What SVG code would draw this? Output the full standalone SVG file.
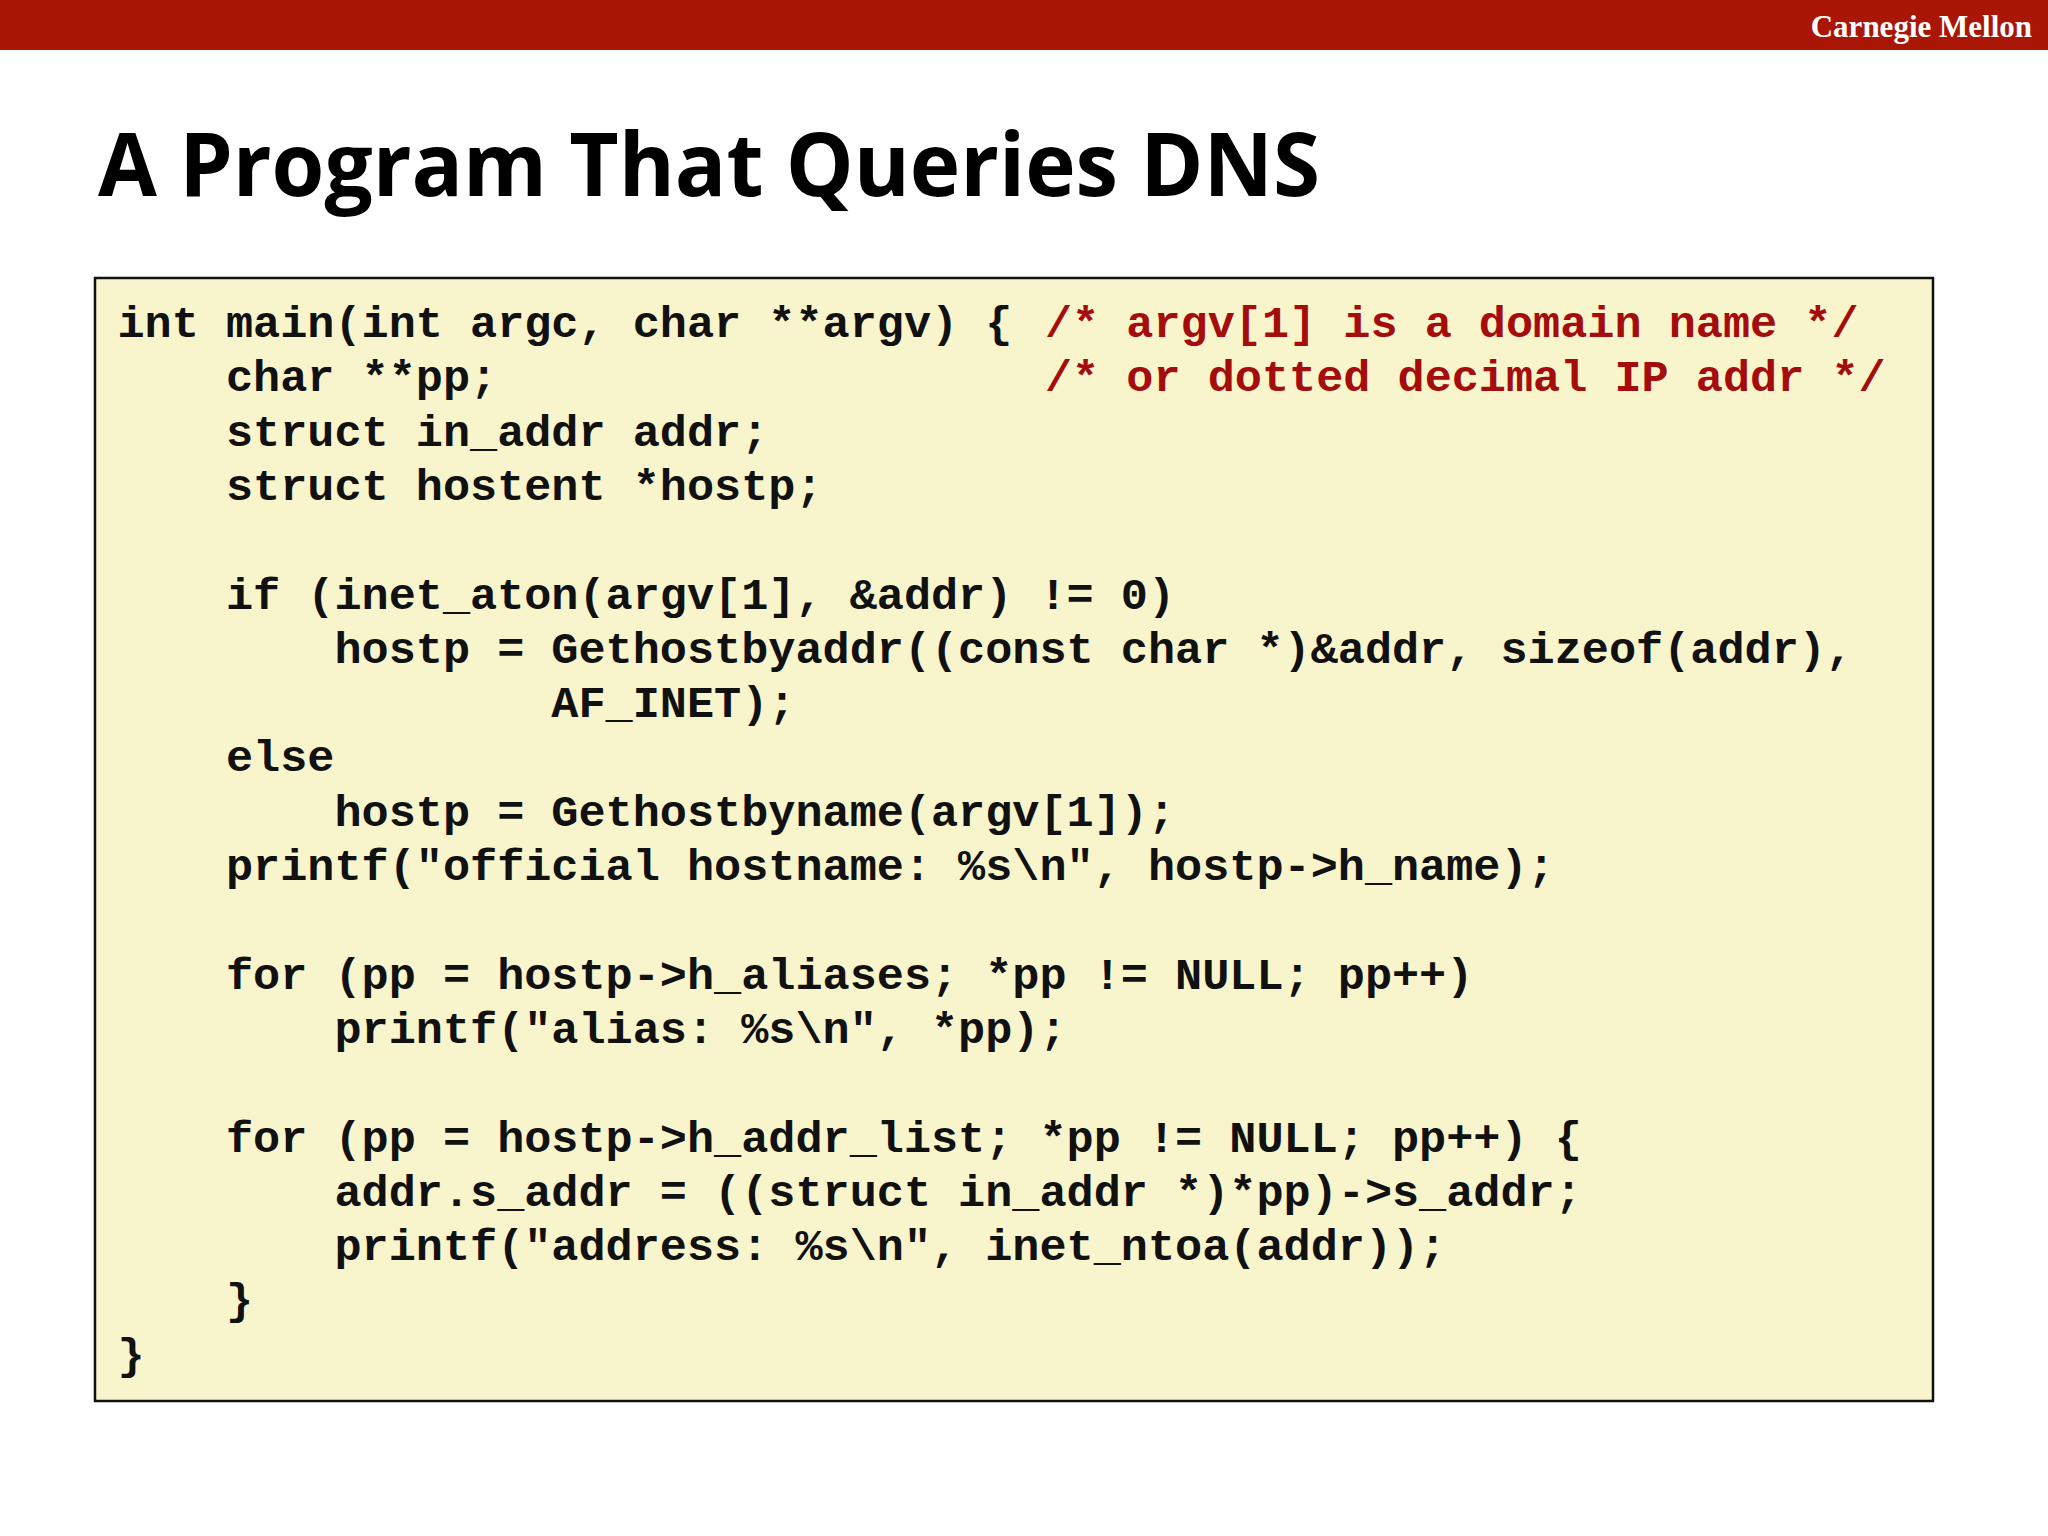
<svg xmlns="http://www.w3.org/2000/svg" width="2048" height="1536" viewBox="0 0 2048 1536" xml:space="preserve">
<style>
.c{font-family:"Liberation Mono","Courier New",monospace;font-weight:bold;font-size:45.2px;fill:#111;white-space:pre}
.r{fill:#a50d0d}
</style>
<rect width="2048" height="1536" fill="#fff"/>
<g id="header"><rect width="2048" height="50" fill="#a91605"/>
<text x="2032" y="37" text-anchor="end" font-family="Liberation Serif,serif" font-weight="bold" font-size="31" fill="#fff">Carnegie Mellon</text></g>
<g id="title"><text x="98" y="196" font-family="Open Sans,Liberation Sans,sans-serif" font-weight="bold" font-size="88" textLength="1222" lengthAdjust="spacingAndGlyphs" fill="#000">A Program That Queries DNS</text></g>
<g id="codebox"><rect x="95" y="278" width="1838" height="1123" fill="#f8f5cd" stroke="#111" stroke-width="2.5"/>
<text class="c" x="117.5" y="337">int main(int argc, char **argv) { <tspan class="r" x="1045">/* argv[1] is a domain name */</tspan></text>
<text class="c" x="117.5" y="391.3">    char **pp;<tspan class="r" x="1045">/* or dotted decimal IP addr */</tspan></text>
<text class="c" x="117.5" y="445.6">    struct in_addr addr;</text>
<text class="c" x="117.5" y="499.9">    struct hostent *hostp;</text>
<text class="c" x="117.5" y="608.5">    if (inet_aton(argv[1], &amp;addr) != 0)</text>
<text class="c" x="117.5" y="662.8">        hostp = Gethostbyaddr((const char *)&amp;addr, sizeof(addr),</text>
<text class="c" x="117.5" y="717.1">                AF_INET);</text>
<text class="c" x="117.5" y="771.4">    else</text>
<text class="c" x="117.5" y="825.7">        hostp = Gethostbyname(argv[1]);</text>
<text class="c" x="117.5" y="880">    printf("official hostname: %s\n", hostp-&gt;h_name);</text>
<text class="c" x="117.5" y="988.6">    for (pp = hostp-&gt;h_aliases; *pp != NULL; pp++)</text>
<text class="c" x="117.5" y="1042.9">        printf("alias: %s\n", *pp);</text>
<text class="c" x="117.5" y="1151.5">    for (pp = hostp-&gt;h_addr_list; *pp != NULL; pp++) {</text>
<text class="c" x="117.5" y="1205.8">        addr.s_addr = ((struct in_addr *)*pp)-&gt;s_addr;</text>
<text class="c" x="117.5" y="1260.1">        printf("address: %s\n", inet_ntoa(addr));</text>
<text class="c" x="117.5" y="1314.4">    }</text>
<text class="c" x="117.5" y="1368.7">}</text>
</g>
</svg>
